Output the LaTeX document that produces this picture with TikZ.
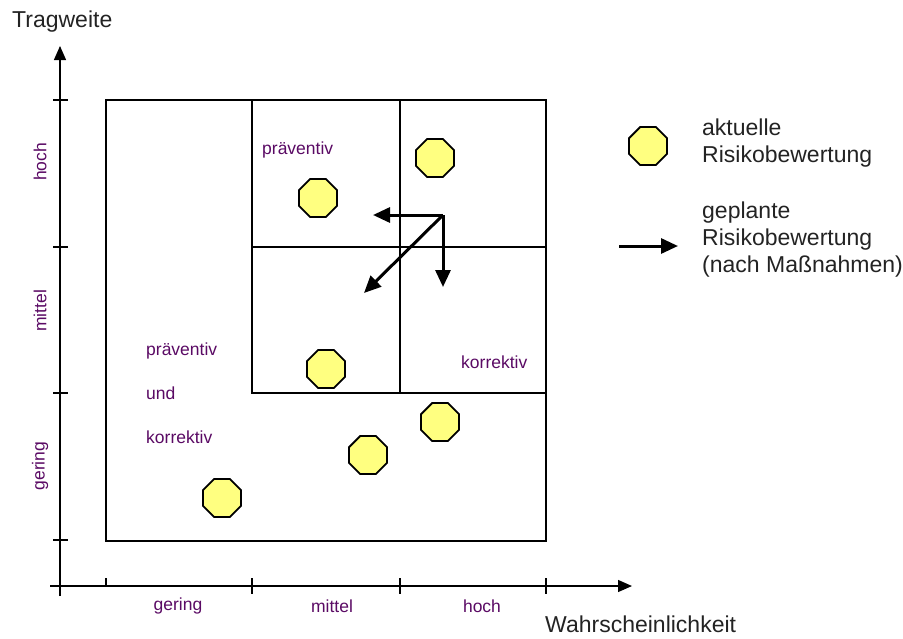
\documentclass[tikz,border=0pt]{standalone}
\usepackage{fontspec}
\setmainfont{Liberation Sans}
\usetikzlibrary{arrows.meta,shapes.geometric}
\definecolor{lblpurple}{RGB}{90,10,100}
\definecolor{riskyellow}{RGB}{255,255,128}
\definecolor{txtgray}{RGB}{35,35,35}
\tikzset{
  risiko/.style={regular polygon,regular polygon sides=8,draw,line width=1.8pt,
    fill=riskyellow,minimum size=41pt,inner sep=0pt},
  axis/.style={line width=1.3pt,-{Triangle[length=14pt,width=12pt]}},
  massnahme/.style={line width=3pt,-{Triangle[length=17pt,width=15pt]}},
  small/.style={font=\fontsize{17.5}{20}\selectfont,text=lblpurple,inner sep=0pt},
  big/.style={font=\fontsize{23}{27}\selectfont,text=txtgray,inner sep=0pt},
}
\begin{document}
\begin{tikzpicture}[x=1pt,y=-1pt]
\useasboundingbox (0,0) rectangle (903,638);
\coordinate (O) at (60,586);
\coordinate (Y) at (60,46);
\coordinate (X) at (632,586);
% Achsen
\draw[axis] (60,596) -- (Y);
\draw[axis] (50,586) -- (X);
\foreach \y in {100,247,393,540} \draw[line width=1.3pt] (53,\y) -- (68,\y);
\foreach \x in {252,400,546} \draw[line width=1.3pt] (\x,578) -- (\x,594);
\draw[line width=1.3pt] (106,578) -- (106,587);
\node[big,anchor=west] (tw) at (12,22) {Tragweite};
\node[big,anchor=west] (ws) at (545,624) {Wahrscheinlichkeit};
\node[small,rotate=90] (yh) at (40,162) {hoch};
\node[small,rotate=90] (ym) at (40,311) {mittel};
\node[small,rotate=90] (yg) at (40,466) {gering};
\node[small] (xg) at (178,606) {gering};
\node[small] (xm) at (332,606) {mittel};
\node[small] (xh) at (482,606) {hoch};
% Matrix
\draw[line width=2.8pt] (106,100) rectangle (546,541);
\draw[line width=1.2pt] (252,100) -- (252,393) -- (546,393);
\draw[line width=1.2pt] (400,100) -- (400,393);
\draw[line width=1.2pt] (252,247) -- (546,247);
\node[small,anchor=west] (pr) at (262,150) {präventiv};
\node[small,anchor=west] (ko) at (461,362) {korrektiv};
\node[small,anchor=west,align=left,font=\fontsize{17.5}{44}\selectfont] (pk) at (146,393)
  {präventiv\\und\\korrektiv};
% Risiken
\node[risiko] (r1) at (435,158) {};
\node[risiko] (r2) at (318,198) {};
\node[risiko] (r3) at (326,369) {};
\node[risiko] (r4) at (440,422) {};
\node[risiko] (r5) at (368,455) {};
\node[risiko] (r6) at (222,498) {};
% Massnahmen
\coordinate (start) at (443,215);
\coordinate (links) at (373,215);
\coordinate (unten) at (443,287);
\coordinate (diag) at (364,293);
\draw[massnahme] (start) -- (links);
\draw[massnahme] (start) -- (unten);
\draw[massnahme] (start) -- (diag);
% Legende
\node[risiko] (lr) at (648,146) {};
\node[big,anchor=west,align=left] (la) at (702,143) {aktuelle\\Risikobewertung};
\coordinate (lp1) at (619,246);
\coordinate (lp2) at (678,246);
\draw[massnahme] (lp1) -- (lp2);
\node[big,anchor=west,align=left] (lg) at (702,240) {geplante\\Risikobewertung\\(nach Maßnahmen)};
\end{tikzpicture}
\end{document}
